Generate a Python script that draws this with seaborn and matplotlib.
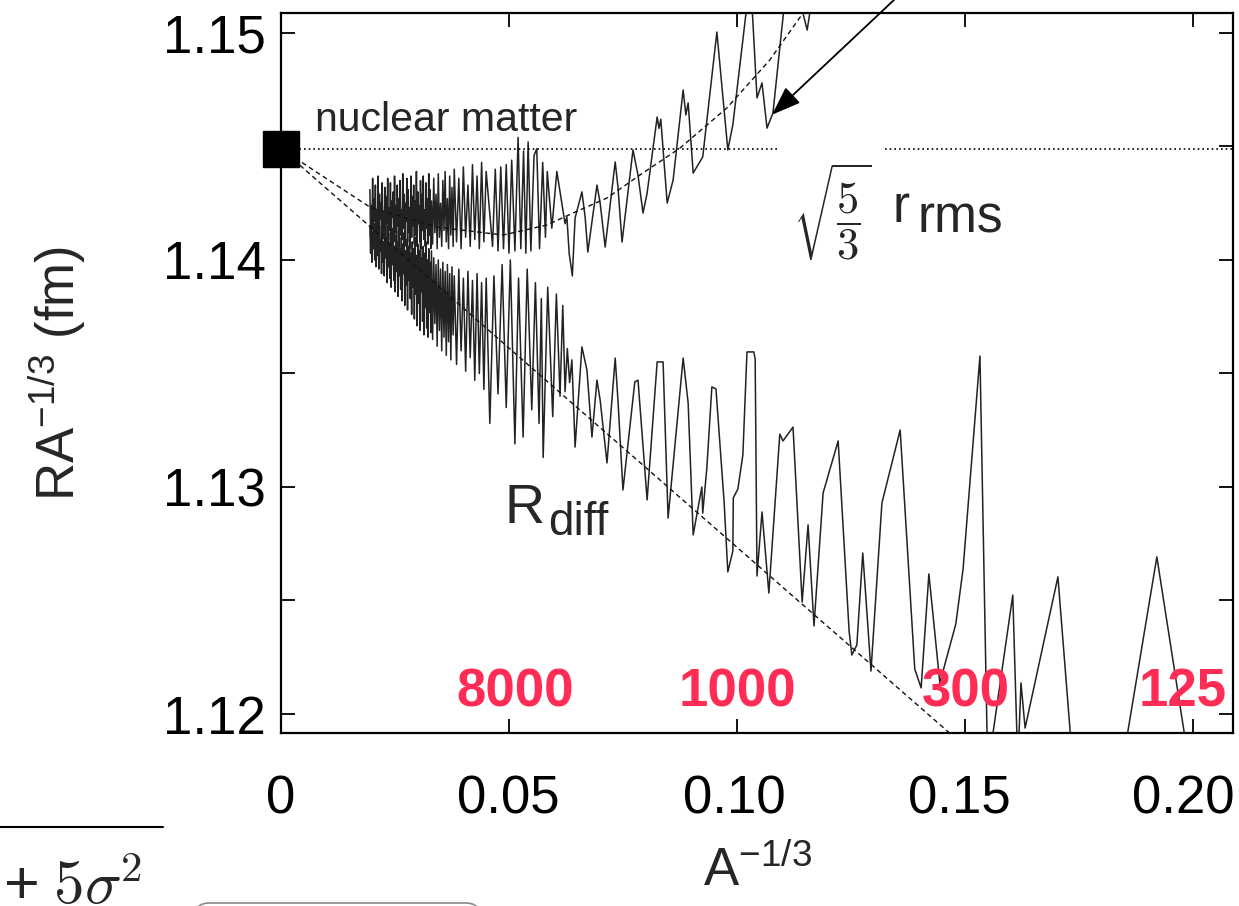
import matplotlib
matplotlib.use("Agg")
import matplotlib.pyplot as plt
import seaborn as sns
from matplotlib.patches import FancyBboxPatch
from matplotlib.lines import Line2D
from matplotlib.transforms import IdentityTransform, Affine2D
from matplotlib.ticker import FixedLocator

# ---------------- data ----------------
# R_diff * A^(-1/3) versus A^(-1/3)
rdiff_x = [0.01950, 0.01965, 0.01980, 0.01995, 0.02010, 0.02025, 0.02040, 0.02055, 0.02070, 0.02085,
           0.02100, 0.02115, 0.02130, 0.02145, 0.02160, 0.02175, 0.02190, 0.02205, 0.02220, 0.02235,
           0.02250, 0.02265, 0.02280, 0.02295, 0.02310, 0.02325, 0.02340, 0.02355, 0.02370, 0.02385,
           0.02400, 0.02415, 0.02430, 0.02445, 0.02460, 0.02475, 0.02490, 0.02505, 0.02520, 0.02535,
           0.02550, 0.02565, 0.02580, 0.02595, 0.02610, 0.02625, 0.02640, 0.02655, 0.02670, 0.02685,
           0.02700, 0.02715, 0.02730, 0.02745, 0.02760, 0.02775, 0.02790, 0.02805, 0.02820, 0.02835,
           0.02850, 0.02865, 0.02880, 0.02895, 0.02910, 0.02925, 0.02940, 0.02955, 0.02970, 0.02985,
           0.03000, 0.03015, 0.03030, 0.03045, 0.03060, 0.03075, 0.03090, 0.03105, 0.03120, 0.03135,
           0.03150, 0.03165, 0.03180, 0.03195, 0.03210, 0.03225, 0.03240, 0.03255, 0.03270, 0.03285,
           0.03300,
           0.03325, 0.03350, 0.03375, 0.03400, 0.03425, 0.03450, 0.03475, 0.03500, 0.03525, 0.03550,
           0.03575, 0.03600, 0.03625, 0.03650, 0.03675, 0.03700, 0.03725, 0.03750, 0.03775, 0.03800,
           0.0385, 0.0390, 0.0395, 0.0400, 0.0405, 0.0410, 0.0415, 0.0420, 0.0425, 0.0430,
           0.0435, 0.0440, 0.0445, 0.0450,
           0.0458, 0.0467, 0.0476, 0.0485, 0.0494, 0.0503, 0.0513, 0.0521, 0.0531, 0.0540,
           0.0550, 0.0558, 0.0566, 0.0571, 0.0575, 0.0585, 0.0596, 0.0604, 0.0612, 0.0618,
           0.0623, 0.0628, 0.0633, 0.0638, 0.0645, 0.0660, 0.0671, 0.0682, 0.0693, 0.0700,
           0.0715, 0.0733, 0.0739, 0.0750, 0.0776, 0.0783, 0.0803, 0.0825, 0.0838, 0.0849,
           0.0882, 0.0893, 0.0904, 0.0923, 0.0925, 0.0934, 0.0945, 0.0954, 0.0972, 0.0980,
           0.0991, 0.0992, 0.1002, 0.1013, 0.1022, 0.1037, 0.1040, 0.1044, 0.1055, 0.1070,
           0.1094, 0.1101, 0.1123, 0.1143, 0.1156, 0.1169, 0.1189, 0.1222, 0.1246, 0.1252,
           0.1263, 0.1276, 0.1294, 0.1318, 0.1358, 0.1390, 0.1404, 0.1421, 0.1445, 0.1480,
           0.1496, 0.1533, 0.1550, 0.1605, 0.1616, 0.1623, 0.1632, 0.1704, 0.1741, 0.1796,
           0.1921, 0.2004]
rdiff_y = [1.1415, 1.1403, 1.1418, 1.1399, 1.1412, 1.1405, 1.1416, 1.1400, 1.1410, 1.1397,
           1.1417, 1.1402, 1.1411, 1.1396, 1.1415, 1.1404, 1.1409, 1.1394, 1.1414, 1.1399,
           1.1408, 1.1393, 1.1413, 1.1401, 1.1410, 1.1390, 1.1415, 1.1397, 1.1407, 1.1392,
           1.1412, 1.1388, 1.1409, 1.1398, 1.1414, 1.1391, 1.1406, 1.1386, 1.1411, 1.1395,
           1.1408, 1.1384, 1.1413, 1.1393, 1.1405, 1.1387, 1.1410, 1.1382, 1.1407, 1.1394,
           1.1412, 1.1380, 1.1404, 1.1389, 1.1409, 1.1378, 1.1406, 1.1391, 1.1411, 1.1383,
           1.1403, 1.1376, 1.1408, 1.1388, 1.1405, 1.1374, 1.1410, 1.1385, 1.1402, 1.1371,
           1.1407, 1.1381, 1.1404, 1.1369, 1.1409, 1.1386, 1.1401, 1.1373, 1.1406, 1.1367,
           1.1403, 1.1379, 1.1408, 1.1370, 1.1400, 1.1366, 1.1405, 1.1377, 1.1399, 1.1368,
           1.1404,
           1.1365, 1.1401, 1.1372, 1.1398, 1.1362, 1.1400, 1.1369, 1.1396, 1.1360, 1.1399,
           1.1366, 1.1395, 1.1358, 1.1398, 1.1364, 1.1394, 1.1356, 1.1397, 1.1367, 1.1393,
           1.1354, 1.1396, 1.1360, 1.1392, 1.1351, 1.1395, 1.1357, 1.1391, 1.1347, 1.1394,
           1.1350, 1.1390, 1.1343, 1.1392,
           1.1328, 1.1393, 1.1341, 1.1398, 1.1335, 1.1400, 1.1319, 1.1392, 1.1322, 1.1396,
           1.1334, 1.1390, 1.1328, 1.1383, 1.1313, 1.1388, 1.1331, 1.1385, 1.1340, 1.1380,
           1.1342, 1.1361, 1.1346, 1.1356, 1.13176, 1.13617, 1.13515, 1.1322, 1.13471, 1.13383,
           1.13106, 1.13568, 1.13383, 1.12987, 1.13463, 1.13471, 1.12943, 1.13551, 1.13551, 1.12863,
           1.13568, 1.1337, 1.12789, 1.1300, 1.12885, 1.13084, 1.13441, 1.13432, 1.1293, 1.12626,
           1.12718, 1.12952, 1.12991, 1.13141, 1.13595, 1.13595, 1.13564, 1.12608, 1.1289, 1.12533,
           1.13233, 1.13203, 1.13264, 1.12493, 1.12833, 1.12388, 1.12974, 1.13203, 1.12366, 1.1226,
           1.12304, 1.12709, 1.12189, 1.1293, 1.13251, 1.12198, 1.12115, 1.12617, 1.12137, 1.12396,
           1.12639, 1.13577, 1.11753, 1.12524, 1.11775, 1.12137, 1.11938, 1.12604, 1.11665, 1.11181,
           1.12692, 1.11621]

# sqrt(5/3) r_rms * A^(-1/3) versus A^(-1/3)
rrms_x = [0.01950, 0.01965, 0.01980, 0.01995, 0.02010, 0.02025, 0.02040, 0.02055, 0.02070, 0.02085,
          0.02100, 0.02115, 0.02130, 0.02145, 0.02160, 0.02175, 0.02190, 0.02205, 0.02220, 0.02235,
          0.02250, 0.02265, 0.02280, 0.02295, 0.02310, 0.02325, 0.02340, 0.02355, 0.02370, 0.02385,
          0.02400, 0.02415, 0.02430, 0.02445, 0.02460, 0.02475, 0.02490, 0.02505, 0.02520, 0.02535,
          0.02550, 0.02565, 0.02580, 0.02595, 0.02610, 0.02625, 0.02640, 0.02655, 0.02670, 0.02685,
          0.02700, 0.02715, 0.02730, 0.02745, 0.02760, 0.02775, 0.02790, 0.02805, 0.02820, 0.02835,
          0.02850, 0.02865, 0.02880, 0.02895, 0.02910, 0.02925, 0.02940, 0.02955, 0.02970, 0.02985,
          0.03000, 0.03015, 0.03030, 0.03045, 0.03060, 0.03075, 0.03090, 0.03105, 0.03120, 0.03135,
          0.03150, 0.03165, 0.03180, 0.03195, 0.03210, 0.03225, 0.03240, 0.03255, 0.03270, 0.03285,
          0.03300,
          0.03325, 0.03350, 0.03375, 0.03400, 0.03425, 0.03450, 0.03475, 0.03500, 0.03525, 0.03550,
          0.03575, 0.03600, 0.03625, 0.03650, 0.03675, 0.03700, 0.03725, 0.03750, 0.03775, 0.03800,
          0.0385, 0.0390, 0.0395, 0.0400, 0.0405, 0.0410, 0.0415, 0.0420, 0.0425, 0.0430,
          0.0435, 0.0440, 0.0445, 0.0450,
          0.0464, 0.0470, 0.0476, 0.0482, 0.0488, 0.0494, 0.0500, 0.0506, 0.0513,
          0.0520, 0.0526, 0.0532, 0.0537, 0.0542, 0.0548, 0.0555, 0.0561, 0.0567, 0.0574,
          0.0580, 0.0584, 0.0594, 0.0605, 0.0623, 0.0627, 0.0632, 0.0639,
          0.0645, 0.0660, 0.0667, 0.0673, 0.0693, 0.0700, 0.0711, 0.0733, 0.0739, 0.0748,
          0.0772, 0.0783, 0.0794, 0.0803, 0.0825, 0.0829, 0.0833, 0.0847, 0.0860, 0.0882,
          0.0888, 0.0893, 0.0904, 0.0925, 0.0956, 0.0980, 0.0991, 0.1022, 0.1033, 0.1044,
          0.1055, 0.1066, 0.1079, 0.1105, 0.1127, 0.1154, 0.1171]
rrms_y = [1.1431, 1.1410, 1.1424, 1.1414, 1.1436, 1.1407, 1.1427, 1.1417, 1.1433, 1.1409,
          1.1422, 1.1412, 1.1437, 1.1406, 1.1429, 1.1418, 1.1425, 1.1408, 1.1434, 1.1413,
          1.1421, 1.1410, 1.1432, 1.1405, 1.1428, 1.1416, 1.1436, 1.1409, 1.1423, 1.1413,
          1.1434, 1.1406, 1.1426, 1.1419, 1.1430, 1.1408, 1.1437, 1.1412, 1.1424, 1.1407,
          1.1433, 1.1415, 1.1427, 1.1405, 1.1435, 1.1411, 1.1422, 1.1409, 1.1438, 1.1414,
          1.1429, 1.1406, 1.1425, 1.1417, 1.1436, 1.1408, 1.1431, 1.1412, 1.1423, 1.1405,
          1.1437, 1.1410, 1.1428, 1.1415, 1.1433, 1.1407, 1.1426, 1.1411, 1.1439, 1.1406,
          1.1430, 1.1416, 1.1424, 1.1408, 1.1435, 1.1405, 1.1429, 1.1413, 1.1437, 1.1409,
          1.1422, 1.1406, 1.1434, 1.1414, 1.1427, 1.1407, 1.1438, 1.1411, 1.1431, 1.1405,
          1.1426,
          1.1407, 1.1436, 1.1412, 1.1429, 1.1405, 1.1438, 1.1410, 1.1425, 1.1406, 1.1435,
          1.1413, 1.1439, 1.1408, 1.1427, 1.1405, 1.1437, 1.1411, 1.1432, 1.1406, 1.1440,
          1.1408, 1.1436, 1.1405, 1.1441, 1.1410, 1.1433, 1.1406, 1.1442, 1.1409, 1.1437,
          1.1405, 1.1443, 1.1408, 1.1439,
          1.1406, 1.1440, 1.1404, 1.1441, 1.1405, 1.1442, 1.1403, 1.1444, 1.1404,
          1.1454, 1.1405, 1.1448, 1.1403, 1.1452, 1.1404, 1.1446, 1.1449, 1.1405, 1.1443,
          1.1410, 1.1439, 1.1414, 1.1439, 1.1416, 1.1419, 1.1403, 1.1393,
          1.14185, 1.1430, 1.1419, 1.14035, 1.1433, 1.14251, 1.14057, 1.14432, 1.14322, 1.14079,
          1.14485, 1.14374, 1.14207, 1.14295, 1.1463, 1.1458, 1.1462, 1.14251, 1.14352, 1.14749,
          1.14639, 1.14692, 1.14383, 1.14454, 1.15004, 1.14485, 1.14595, 1.15123, 1.15123, 1.14714,
          1.1478, 1.14581, 1.14648, 1.15145, 1.15233, 1.15013, 1.15233]

# smooth fits (dashed)
fit_rdiff_x = [0.0, 0.150]
fit_rdiff_y = [1.1449, 1.11857]
fit_rrms_x = [0.0, 0.0195, 0.0342, 0.0487, 0.0583, 0.0645, 0.0715, 0.0787, 0.0875, 0.0978, 0.1072, 0.1145, 0.1180]
fit_rrms_y = [1.1449, 1.14233, 1.14145, 1.1411, 1.14154, 1.14211, 1.14273, 1.14374, 1.14493, 1.1467, 1.14881, 1.15088, 1.1520]

nuclear_matter = 1.1449
nm_line_starts = [0.002, 0.1325]
nm_line_ends = [0.1095, 0.2088]

mass_numbers = ["8000", "1000", "300", "125"]
mass_label_x = [0.0513, 0.1000, 0.1502, 0.1978]
mass_label_y = 1.12095

xticks = [0.0, 0.05, 0.10, 0.15, 0.20]
xtick_labels = ["0", "0.05", "0.10", "0.15", "0.20"]
xtick_label_shift_px = [0, -1, -3, -6, -10]
yticks = [1.12, 1.13, 1.14, 1.15]
ytick_labels = ["1.12", "1.13", "1.14", "1.15"]
yminor = [1.125, 1.135, 1.145]

arrow_tip = (0.1077, 1.1464)
arrow_tail = (0.1368, 1.1519)

# ---------------- style ----------------
sns.set_theme(style="ticks")
plt.rcParams["font.family"] = ["Liberation Sans", "DejaVu Sans"]
plt.rcParams["mathtext.fontset"] = "custom"
plt.rcParams["mathtext.rm"] = "Liberation Sans"
plt.rcParams["mathtext.it"] = "Liberation Sans:italic"
plt.rcParams["mathtext.bf"] = "Liberation Sans:bold"
plt.rcParams["mathtext.default"] = "regular"

W, H = 1239, 906
fig = plt.figure(figsize=(W / 100, H / 100), dpi=100)
fig.patch.set_facecolor("white")
ax = fig.add_axes([281 / W, 1 - 733 / H, (1233 - 281) / W, (733 - 13) / H])
ax.set_facecolor("white")

curve_color = "#222222"
sns.lineplot(x=rdiff_x, y=rdiff_y, sort=False, estimator=None, color=curve_color, lw=1.1, ax=ax)
sns.lineplot(x=rrms_x, y=rrms_y, sort=False, estimator=None, color=curve_color, lw=1.1, ax=ax)

ax.plot(fit_rdiff_x, fit_rdiff_y, color="#111111", lw=1.0, ls=(0, (3.5, 2.5)))
ax.plot(fit_rrms_x, fit_rrms_y, color="#111111", lw=1.0, ls=(0, (3.5, 2.5)))

for xs, xe in zip(nm_line_starts, nm_line_ends):
    ax.plot([xs, xe], [nuclear_matter, nuclear_matter], color="#000000", lw=1.2, ls=(0, (1.0, 1.8)))

ax.plot([0.0], [nuclear_matter], marker="s", ms=26, color="black", clip_on=False, zorder=6)

ax.set_xlim(0.0, 0.2088)
ax.set_ylim(1.119163, 1.150881)

ax.xaxis.set_major_locator(FixedLocator(xticks))
ax.set_xticklabels(xtick_labels)
ax.yaxis.set_major_locator(FixedLocator(yticks))
ax.set_yticklabels(ytick_labels)
ax.yaxis.set_minor_locator(FixedLocator(yminor))

ax.tick_params(axis="both", which="both", direction="in", length=10, width=1.3,
               top=True, right=True, colors="black")
ax.tick_params(axis="both", which="major", labelsize=38)
ax.tick_params(axis="y", which="major", pad=11)
ax.tick_params(axis="x", which="major", pad=30)
for s in ax.spines.values():
    s.set_linewidth(1.6)
    s.set_color("black")

for lab, dx in zip(ax.get_xticklabels(), xtick_label_shift_px):
    lab.set_transform(lab.get_transform() + Affine2D().translate(dx, 0))

ax.set_ylabel(r"RA$^{-1/3}$ (fm)", fontsize=38, va="center")
ax.yaxis.set_label_coords(-0.235, 0.5)
ax.set_xlabel(r"A$^{-1/3}$", fontsize=38, va="center")
ax.xaxis.set_label_coords(0.5, -0.193)

# annotations
ax.text(0.00746, 1.14568, "nuclear matter", fontsize=29.5, va="baseline", ha="left")
ax.text(0.0491, 1.12841, "R", fontsize=40, va="baseline", ha="left")
ax.text(0.0586, 1.12789, "diff", fontsize=33, va="baseline", ha="left")
ax.text(0.1209, 1.14211, r"$\sqrt{\dfrac{\mathrm{5}}{\mathrm{3}}}$", fontsize=32,
        math_fontfamily="cm", va="center", ha="center")
ax.text(0.1342, 1.14167, "r", fontsize=37, va="baseline", ha="left")
ax.text(0.1397, 1.14119, "rms", fontsize=37, va="baseline", ha="left")

for lab, lx in zip(mass_numbers, mass_label_x):
    ax.text(lx, mass_label_y, lab, fontsize=38, fontweight="bold", color="#FF2D55",
            ha="center", va="center", zorder=7)

ax.annotate("", xy=arrow_tip, xytext=arrow_tail,
            arrowprops=dict(arrowstyle="-|>,head_length=0.6,head_width=0.22", lw=1.3,
                            color="black", shrinkA=0, shrinkB=0, mutation_scale=30),
            annotation_clip=False)

# fragments of the surrounding page
fig.text(3 / W, 1 - 904 / H, r"$+\;\mathrm{5}\mathit{\sigma}^{\mathrm{2}}$", fontsize=44,
         math_fontfamily="cm", va="baseline", ha="left")
fig.add_artist(Line2D([0, 163 / W], [1 - 827 / H, 1 - 827 / H], color="black", lw=1.5))
box = FancyBboxPatch((195, -40), 285, 43, boxstyle="round,pad=0,rounding_size=14",
                     transform=IdentityTransform(), facecolor="white", edgecolor="#8a8a8a", lw=1.2)
fig.add_artist(box)

fig.savefig("out.png", dpi=100)
